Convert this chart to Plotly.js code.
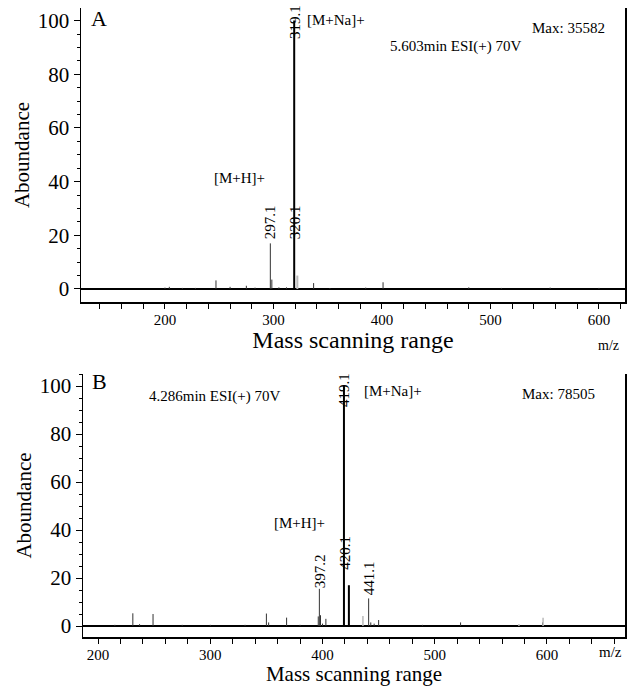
<!DOCTYPE html>
<html>
<head>
<meta charset="utf-8">
<script src="https://cdn.plot.ly/plotly-3.0.1.min.js"></script>
<style>html,body{margin:0;padding:0;background:#fff;}#chart{width:632px;height:686px;}</style>
</head>
<body>
<div id="chart"></div>
<script>
// ---- Panel A data (m/z, relative abundance %) ----
const topThinMz = [200, 204, 216, 228, 247, 260, 275, 283, 297.1, 298.5, 305, 312, 337, 352, 385, 401, 480, 510, 555, 600];
const topThinAb = [0.5, 0.8, 0.4, 0.4, 3.2, 0.8, 1.2, 0.5, 17, 3.5, 0.6, 0.6, 2.2, 0.3, 0.5, 2.5, 0.6, 0.4, 0.5, 0.4];
const topMainMz = [319.1];
const topMainAb = [100];
const topGrayMz = [322];
const topGrayAb = [5];

// ---- Panel B data ----
const botThinMz = [215, 231, 237, 249, 275, 300, 331, 350, 352, 368, 380, 396.2, 397.2, 398.2, 400, 403, 441.1, 443, 446, 450, 489, 523, 596];
const botThinAb = [0.5, 5.3, 0.8, 5, 0.5, 0.5, 0.5, 5.2, 1.5, 3.5, 0.5, 4, 15.5, 4.5, 1, 3, 11.5, 1.5, 1, 2.5, 0.5, 1.5, 1.5];
const botMainMz = [419.1, 423.5];
const botMainAb = [100, 17];
const botGrayMz = [436, 575, 596.5];
const botGrayAb = [4.2, 0.8, 3.5];

// ---- Labels ----
const topPeakLabels = [{t: '319.1', x: 319.1, y: 99.6}, {t: '297.1', x: 297.1, y: 25}, {t: '320.1', x: 320.1, y: 25}];
const botPeakLabels = [{t: '419.1', x: 419.1, y: 98.3}, {t: '397.2', x: 397.2, y: 23}, {t: '420.1', x: 420.1, y: 30.6}, {t: '441.1', x: 441.1, y: 19.8}];

function sticks(mz, ab) {
  const x = [], y = [];
  for (let i = 0; i < mz.length; i++) { x.push(mz[i], mz[i], null); y.push(0, ab[i], null); }
  return {x, y};
}
function tr(mz, ab, xa, ya, color, width) {
  const s = sticks(mz, ab);
  return {x: s.x, y: s.y, xaxis: xa, yaxis: ya, type: 'scatter', mode: 'lines',
          line: {color: color, width: width}, hoverinfo: 'skip', connectgaps: false};
}

const data = [
  tr(topThinMz, topThinAb, 'x', 'y', '#333', 1),
  tr(topGrayMz, topGrayAb, 'x', 'y', '#bbb', 2),
  tr(topMainMz, topMainAb, 'x', 'y', '#000', 2),
  tr(botThinMz, botThinAb, 'x2', 'y2', '#333', 1),
  tr(botGrayMz, botGrayAb, 'x2', 'y2', '#bbb', 1.5),
  tr(botMainMz, botMainAb, 'x2', 'y2', '#000', 2)
];

const F = "'Liberation Serif', 'Times New Roman', serif";
function xax(domain, range, titleSize, anchor, standoff) {
  return {domain, range, anchor, showline: true, linecolor: '#000', linewidth: 1.5,
    ticks: 'outside', ticklen: 5, tickwidth: 1, tickcolor: '#000', tick0: 0, dtick: 100,
    ticklabelstandoff: -2,
    minor: {dtick: 20, ticks: 'outside', ticklen: 5, tickcolor: '#000', tickwidth: 1},
    showgrid: false, zeroline: false, tickfont: {size: 15, family: F, color: '#000'},
    title: {text: 'Mass scanning range', font: {size: titleSize, family: F, color: '#000'}, standoff: standoff}};
}
function yax(domain, range, anchor) {
  return {domain, range, anchor, showline: true, mirror: true, linecolor: '#000', linewidth: 1.5,
    ticks: 'outside', ticklen: 6, tickwidth: 1, tickcolor: '#000', tick0: 0, dtick: 20,
    minor: {dtick: 5, ticks: 'outside', ticklen: 3, tickcolor: '#000', tickwidth: 1},
    showgrid: false, zeroline: true, zerolinecolor: '#000', zerolinewidth: 1.5,
    tickfont: {size: 21, family: F, color: '#000'},
    title: {text: 'Aboundance', font: {size: 21, family: F, color: '#000'}, standoff: 2}};
}

const annotations = [];
function txt(xref, yref, x, y, text, size, xanchor, angle) {
  annotations.push({xref, yref, x, y, text, showarrow: false, xanchor: xanchor || 'left', yanchor: 'middle',
    textangle: angle || 0, font: {size, family: F, color: '#000'}});
}
// Panel A texts
txt('x', 'y', 130, 100.6, 'A', 22);
txt('x', 'y', 329, 100.4, '[M+Na]+', 15);
txt('x', 'y', 536.4, 97.4, 'Max: 35582', 15);
txt('x', 'y', 405.5, 90.3, '5.603min ESI(+) 70V', 15);
txt('x', 'y', 243.3, 41.4, '[M+H]+', 15);
topPeakLabels.forEach(p => txt('x', 'y', p.x, p.y, p.t, 15, 'center', -90));
txt('paper', 'paper', 608 / 632, 1 - 345 / 686, 'm/z', 14, 'center');
// Panel B texts
txt('x2', 'y2', 192.8, 102, 'B', 22);
txt('x2', 'y2', 243.6, 95.8, '4.286min ESI(+) 70V', 15);
txt('x2', 'y2', 435.2, 97.9, '[M+Na]+', 15);
txt('x2', 'y2', 575.9, 96.7, 'Max: 78505', 15);
txt('x2', 'y2', 355, 43.1, '[M+H]+', 15);
botPeakLabels.forEach(p => txt('x2', 'y2', p.x, p.y, p.t, 15, 'center', -90));
txt('paper', 'paper', 610 / 632, 1 - 652 / 686, 'm/z', 15, 'center');

const layout = {
  width: 632, height: 686, margin: {l: 0, r: 0, t: 0, b: 0},
  paper_bgcolor: '#fff', plot_bgcolor: '#fff', showlegend: false,
  font: {family: F, color: '#000'},
  xaxis: xax([81 / 632, 625 / 632], [122.6, 624], 24, 'y', 3),
  yaxis: yax([1 - 302 / 686, 1 - 8 / 686], [-4.85, 104.7], 'x'),
  xaxis2: xax([83 / 632, 625 / 632], [186.6, 669.5], 21, 'y2', 4),
  yaxis2: yax([1 - 637 / 686, 1 - 374 / 686], [-4.57, 105], 'x2'),
  annotations
};

Plotly.newPlot('chart', data, layout, {staticPlot: true, displayModeBar: false});
</script>
</body>
</html>
